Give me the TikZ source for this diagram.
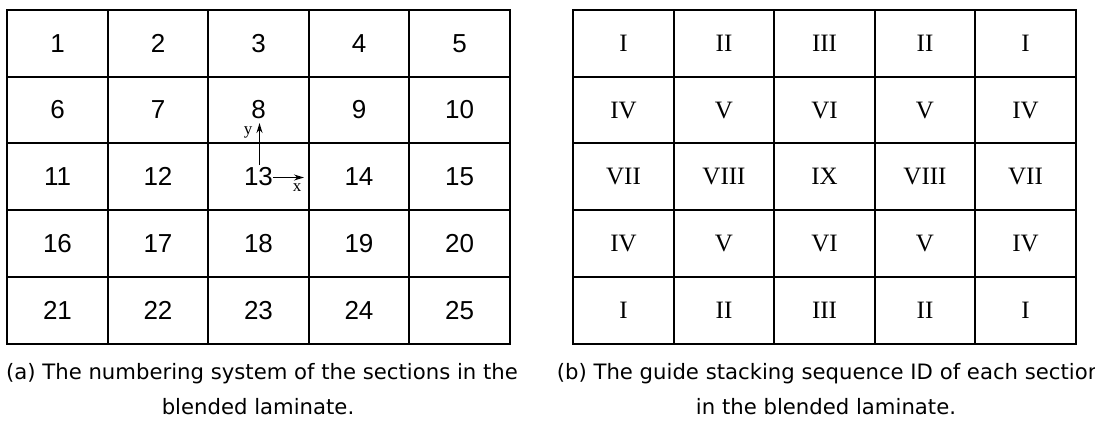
\documentclass[tikz,border=0pt]{standalone}
\usepackage{fontspec}
\setmainfont{Liberation Serif}
\newfontfamily\numfont{Liberation Sans}
\newfontfamily\capfont{DejaVu Sans}
\usetikzlibrary{arrows.meta}
\begin{document}
\begin{tikzpicture}[x=1bp,y=-1bp,
  cell/.style={inner sep=0pt, anchor=center},
  numcell/.style={cell, font=\numfont\fontsize{26bp}{28bp}\selectfont},
  romcell/.style={cell, font=\fontsize{25bp}{28bp}\selectfont},
  gridline/.style={line width=2bp, line cap=rect},
  axis/.style={line width=1.5bp, -{Stealth[length=10bp,width=6bp]}},
  axlabel/.style={inner sep=0pt, font=\fontsize{17bp}{19bp}\selectfont},
  caption/.style={inner sep=0pt, anchor=base, font=\capfont\fontsize{21.2bp}{24bp}\selectfont}]
\useasboundingbox (0,0) rectangle (1095,420);
\fill[white] (0,0) rectangle (1095,420);
\def\rowsY{{10,77,143,210,277,344}}
\def\colsL{{7,108,208,309,409,510}}
\def\colsR{{573,674,774,875,975,1076}}
% grid lines
\foreach \k in {0,...,5}{
  \pgfmathsetmacro\yy{\rowsY[\k]}
  \pgfmathsetmacro\xl{\colsL[\k]}
  \pgfmathsetmacro\xr{\colsR[\k]}
  \draw[gridline] (7,\yy) -- (510,\yy);
  \draw[gridline] (573,\yy) -- (1076,\yy);
  \draw[gridline] (\xl,10) -- (\xl,344);
  \draw[gridline] (\xr,10) -- (\xr,344);
}
% left grid numbers
\foreach \r in {0,...,4}{
  \foreach \c in {0,...,4}{
    \pgfmathtruncatemacro\n{\r*5+\c+1}
    \pgfmathtruncatemacro\cn{\c+1}
    \pgfmathtruncatemacro\rn{\r+1}
    \pgfmathsetmacro\xa{\colsL[\c]}
    \pgfmathsetmacro\xb{\colsL[\cn]}
    \pgfmathsetmacro\ya{\rowsY[\r]}
    \pgfmathsetmacro\yb{\rowsY[\rn]}
    \node[numcell] (L\n) at ({(\xa+\xb)/2},{(\ya+\yb)/2}) {\n};
  }
}
% right grid numerals
\foreach \lab [count=\k from 0] in {I,II,III,II,I,IV,V,VI,V,IV,VII,VIII,IX,VIII,VII,IV,V,VI,V,IV,I,II,III,II,I}{
  \pgfmathtruncatemacro\r{div(\k,5)}
  \pgfmathtruncatemacro\c{mod(\k,5)}
  \pgfmathtruncatemacro\cn{\c+1}
  \pgfmathtruncatemacro\rn{\r+1}
  \pgfmathsetmacro\xa{\colsR[\c]}
  \pgfmathsetmacro\xb{\colsR[\cn]}
  \pgfmathsetmacro\ya{\rowsY[\r]}
  \pgfmathsetmacro\yb{\rowsY[\rn]}
  \node[romcell] (R\k) at ({(\xa+\xb)/2},{(\ya+\yb)/2}) {\lab};
}
% axes in section 13
\coordinate (ya) at (259.5,165);
\coordinate (yb) at (259.5,123);
\coordinate (xa) at (273,177.5);
\coordinate (xb) at (304,177.5);
\draw[axis] (ya) -- (yb);
\draw[axis] (xa) -- (xb);
\node[axlabel] (ylab) at (248,132) {y};
\node[axlabel] (xlab) at (297,188) {x};
% captions
\node[caption] (capA1) at (262,379) {(a) The numbering system of the sections in the};
\node[caption] (capA2) at (258,414) {blended laminate.};
\node[caption] (capB1) at (829,379) {(b) The guide stacking sequence ID of each section};
\node[caption] (capB2) at (826,414) {in the blended laminate.};
\end{tikzpicture}
\end{document}
